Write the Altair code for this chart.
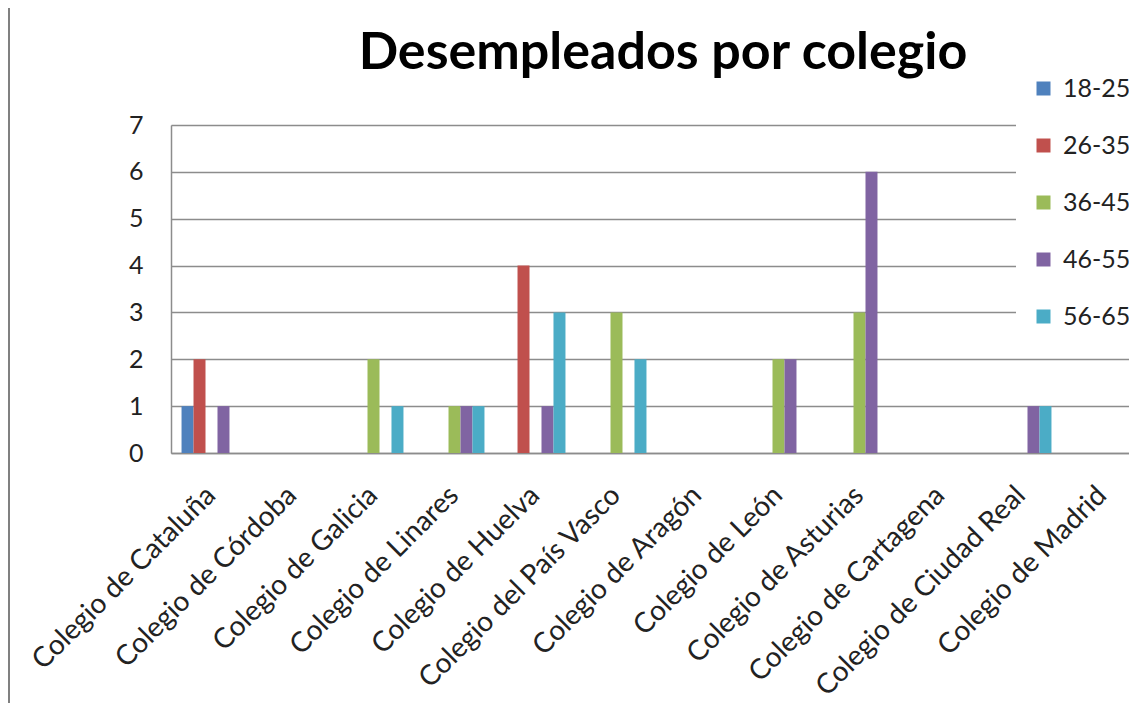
import altair as alt
import pandas as pd

title_text = ["Desempleados por colegio"]
categories = [
    "Colegio de Cataluña", "Colegio de Córdoba", "Colegio de Galicia",
    "Colegio de Linares", "Colegio de Huelva", "Colegio del País Vasco",
    "Colegio de Aragón", "Colegio de León", "Colegio de Asturias",
    "Colegio de Cartagena", "Colegio de Ciudad Real", "Colegio de Madrid",
]
series = ["18-25", "26-35", "36-45", "46-55", "56-65"]
v_18_25 = [1, 0, 0, 0, 0, 0, 0, 0, 0, 0, 0, 0]
v_26_35 = [2, 0, 0, 0, 4, 0, 0, 0, 0, 0, 0, 0]
v_36_45 = [0, 0, 2, 1, 0, 3, 0, 2, 3, 0, 0, 0]
v_46_55 = [1, 0, 0, 1, 1, 0, 0, 2, 6, 0, 1, 0]
v_56_65 = [0, 0, 1, 1, 3, 2, 0, 0, 0, 0, 1, 0]
colors = ["#4F81BD", "#C0504D", "#9BBB59", "#8064A2", "#4BACC6"]
y_ticks = [0, 1, 2, 3, 4, 5, 6, 7]

values = [v_18_25, v_26_35, v_36_45, v_46_55, v_56_65]
rows = []
for s, vals in zip(series, values):
    for c, v in zip(categories, vals):
        rows.append({"colegio": c, "edad": s, "n": v})
df = pd.DataFrame(rows)

FONT = "Lato"
GRID = "#8c8c8c"
W, H = 958, 328

bars = alt.Chart(df).mark_bar().encode(
    x=alt.X("colegio:N", sort=categories,
            scale=alt.Scale(range=[0, 972], paddingInner=0.26, paddingOuter=0.13),
            axis=alt.Axis(title=None, labelAngle=-45, ticks=False, labelPadding=28,
                          labelOffset=-10,
                          labelFontSize=28, labelFont=FONT, labelColor="#222222",
                          labelLimit=0, domainColor=GRID, domainWidth=1.5, grid=False)),
    xOffset=alt.XOffset("edad:N", sort=series,
                        scale=alt.Scale(paddingInner=0, paddingOuter=0)),
    y=alt.Y("n:Q", scale=alt.Scale(domain=[0, 7], nice=False),
            axis=alt.Axis(title=None, values=y_ticks, ticks=False, labelPadding=28,
                          labelFontSize=25, labelFont=FONT, labelColor="#222222",
                          grid=True, gridColor=GRID, gridWidth=1.5,
                          domainColor=GRID, domainWidth=1.5)),
    color=alt.Color("edad:N", sort=series,
                    scale=alt.Scale(domain=series, range=colors),
                    legend=alt.Legend(title=None, orient="none", legendX=845, legendY=-64,
                                      fillColor="white", padding=15,
                                      symbolType="square", symbolSize=196,
                                      symbolStrokeWidth=0, labelFontSize=25,
                                      labelFont=FONT, labelColor="#222222",
                                      labelOffset=7, rowPadding=31)),
)

border = alt.Chart(pd.DataFrame({"a": [0]})).mark_rule(
    color="#808080", strokeWidth=2
).encode(x=alt.value(-162), y=alt.value(-117), y2=alt.value(H + 250))

title = alt.Chart(pd.DataFrame({"t": title_text})).mark_text(
    font=FONT, fontSize=52, fontWeight="bold", color="black",
    align="center", baseline="alphabetic"
).encode(text="t:N", x=alt.value(492), y=alt.value(-56))

chart = alt.layer(border, bars, title).properties(
    width=W, height=H,
    autosize=alt.AutoSizeParams(type="none"),
    padding={"left": 163, "top": 117, "right": 0, "bottom": 250},
).configure_view(strokeWidth=0).configure(background="white")

chart.save("out.html", embed_options={"renderer": "svg", "actions": False})
